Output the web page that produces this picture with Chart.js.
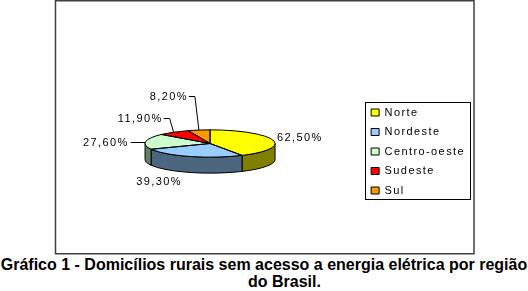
<!DOCTYPE html>
<html>
<head>
<meta charset="utf-8">
<script src="https://cdn.jsdelivr.net/npm/chart.js@4/dist/chart.umd.min.js"></script>
<style>
  html, body { margin: 0; padding: 0; background: #fff; }
  #wrap { position: relative; width: 528px; height: 291px; }
  #chart { position: absolute; left: 0; top: 0; }
  #caption {
    position: absolute; left: 0; top: 257px; width: 528px; text-align: center;
    font: bold 16px "Liberation Sans", Arial, sans-serif; line-height: 16.5px;
    white-space: nowrap; color: #000;
  }
</style>
</head>
<body>
<div id="wrap">
  <canvas id="chart" width="528" height="255"></canvas>
  <div id="caption">Gráfico 1 - Domicílios rurais sem acesso a energia elétrica por região<br><span style="margin-left:41px">do Brasil.</span></div>
</div>
<script>
// data
const regions = ['Norte', 'Nordeste', 'Centro-oeste', 'Sudeste', 'Sul'];
const shares = [62.5, 39.3, 27.6, 11.9, 8.2];

const topColors = ['#ffff00', '#99ccff', '#ccffcc', '#ff0000', '#ff9900'];
const sideColors = ['#808000', '#4d6680', '#668066', '#800000', '#804d00'];

const TILT = 0.21;   // vertical squash of the pie
const DEPTH = 16;    // thickness of the 3d side
const LABEL_FONT = '11px "Liberation Sans", Arial, sans-serif';
const SPACING = '1.4px';

const fmt = v => v.toFixed(2).replace('.', ',') + '%';

// where each value label goes, relative to the slice edge
const callouts = [
  { kind: 'plain', dx: 4, dy: -2, align: 'left' },
  { kind: 'plain', dx: -31, dy: 25, align: 'center' },
  { kind: 'side', dx: -15, dy: 1 },
  { kind: 'elbow', lift: 14 },
  { kind: 'elbow', lift: 34 },
];

function topCenter(arc) {
  return { x: arc.x, y: arc.y - DEPTH / 2 };
}

const pie3d = {
  id: 'pie3d',
  beforeLayout(chart) {
    chart.ctx.letterSpacing = SPACING;
  },
  beforeDraw(chart) {
    const ctx = chart.ctx;
    ctx.letterSpacing = SPACING;
    // outer frame
    ctx.save();
    ctx.strokeStyle = '#404040';
    ctx.lineWidth = 1.5;
    ctx.strokeRect(55.5, 0.75, chart.width - 55 - 54.5, 253);
    ctx.restore();
  },
  beforeDatasetsDraw(chart) {
    const ctx = chart.ctx;
    const arcs = chart.getDatasetMeta(0).data;
    // visible side walls (front half only)
    arcs.forEach((arc, i) => {
      const a1 = Math.max(arc.startAngle, 0);
      const a2 = Math.min(arc.endAngle, Math.PI);
      if (a2 <= a1) return;
      const c = topCenter(arc), rx = arc.outerRadius, ry = rx * TILT;
      ctx.save();
      ctx.beginPath();
      ctx.ellipse(c.x, c.y, rx, ry, 0, a1, a2);
      ctx.ellipse(c.x, c.y + DEPTH, rx, ry, 0, a2, a1, true);
      ctx.closePath();
      ctx.fillStyle = sideColors[i];
      ctx.fill();
      ctx.lineWidth = 1;
      ctx.strokeStyle = '#000';
      ctx.stroke();
      ctx.restore();
    });
    // squash the top face drawn by chart.js
    const a = arcs[0];
    ctx.save();
    ctx.translate(0, a.y - DEPTH / 2);
    ctx.scale(1, TILT);
    ctx.translate(0, -a.y);
  },
  afterDatasetsDraw(chart) {
    const ctx = chart.ctx;
    ctx.restore();
    const arcs = chart.getDatasetMeta(0).data;

    // slice outlines on the top face
    ctx.save();
    ctx.lineWidth = 1;
    ctx.strokeStyle = '#000';
    arcs.forEach(arc => {
      const c = topCenter(arc), rx = arc.outerRadius, ry = rx * TILT;
      ctx.beginPath();
      ctx.moveTo(c.x, c.y);
      ctx.ellipse(c.x, c.y, rx, ry, 0, arc.startAngle, arc.endAngle);
      ctx.closePath();
      ctx.stroke();
    });
    ctx.restore();

    // value labels
    ctx.save();
    ctx.font = LABEL_FONT;
    ctx.letterSpacing = SPACING;
    ctx.fillStyle = '#000';
    ctx.strokeStyle = '#000';
    ctx.lineWidth = 1;
    ctx.textBaseline = 'middle';
    arcs.forEach((arc, i) => {
      const c = topCenter(arc), rx = arc.outerRadius, ry = rx * TILT;
      const mid = (arc.startAngle + arc.endAngle) / 2;
      const ex = c.x + rx * Math.cos(mid), ey = c.y + ry * Math.sin(mid);
      const co = callouts[i];
      const text = fmt(shares[i]);
      if (co.kind === 'plain') {
        ctx.textAlign = co.align;
        ctx.fillText(text, ex + co.dx, ey + co.dy);
      } else if (co.kind === 'side') {
        ctx.beginPath();
        ctx.moveTo(ex, ey + co.dy);
        ctx.lineTo(ex + co.dx, ey + co.dy);
        ctx.stroke();
        ctx.textAlign = 'right';
        ctx.fillText(text, ex + co.dx - 2, ey + co.dy);
      } else {
        const ly = Math.round(ey - co.lift) + 0.5;
        ctx.beginPath();
        ctx.moveTo(ex, ey);
        ctx.lineTo(ex - 4, ly);
        ctx.lineTo(ex - 10, ly);
        ctx.stroke();
        ctx.textAlign = 'right';
        ctx.fillText(text, ex - 11, ly);
      }
    });
    ctx.restore();
  },
  afterDraw(chart) {
    // box round the legend
    const boxes = chart.legend.legendHitBoxes;
    if (!boxes || !boxes.length) return;
    const l = Math.min(...boxes.map(b => b.left));
    const t = Math.min(...boxes.map(b => b.top));
    const r = Math.max(...boxes.map(b => b.left + b.width));
    const b = Math.max(...boxes.map(bx => bx.top + bx.height));
    const ctx = chart.ctx;
    ctx.save();
    ctx.strokeStyle = '#000';
    ctx.lineWidth = 1;
    ctx.strokeRect(Math.round(l - 6) + 0.5, Math.round(t - 5) + 0.5,
                   Math.round(r - l + 11), Math.round(b - t + 8));
    ctx.restore();
  }
};

new Chart(document.getElementById('chart'), {
  type: 'pie',
  data: {
    labels: regions,
    datasets: [{
      data: shares,
      backgroundColor: topColors,
      borderWidth: 0,
      clip: false
    }]
  },
  options: {
    responsive: false,
    animation: false,
    events: [],
    radius: 65,
    layout: { padding: { left: 57.5, right: 53, top: 48, bottom: 0 } },
    plugins: {
      title: { display: false },
      tooltip: { enabled: false },
      legend: {
        position: 'right',
        align: 'center',
        labels: {
          boxWidth: 8,
          boxHeight: 7,
          padding: 8.5,
          color: '#000',
          font: { family: '"Liberation Sans", Arial, sans-serif', size: 11 },
          generateLabels: chart => chart.data.labels.map((t, i) => ({
            text: t,
            fillStyle: topColors[i],
            strokeStyle: '#000',
            lineWidth: 1,
            hidden: false,
            index: i
          }))
        }
      }
    }
  },
  plugins: [pie3d]
});
</script>
</body>
</html>
